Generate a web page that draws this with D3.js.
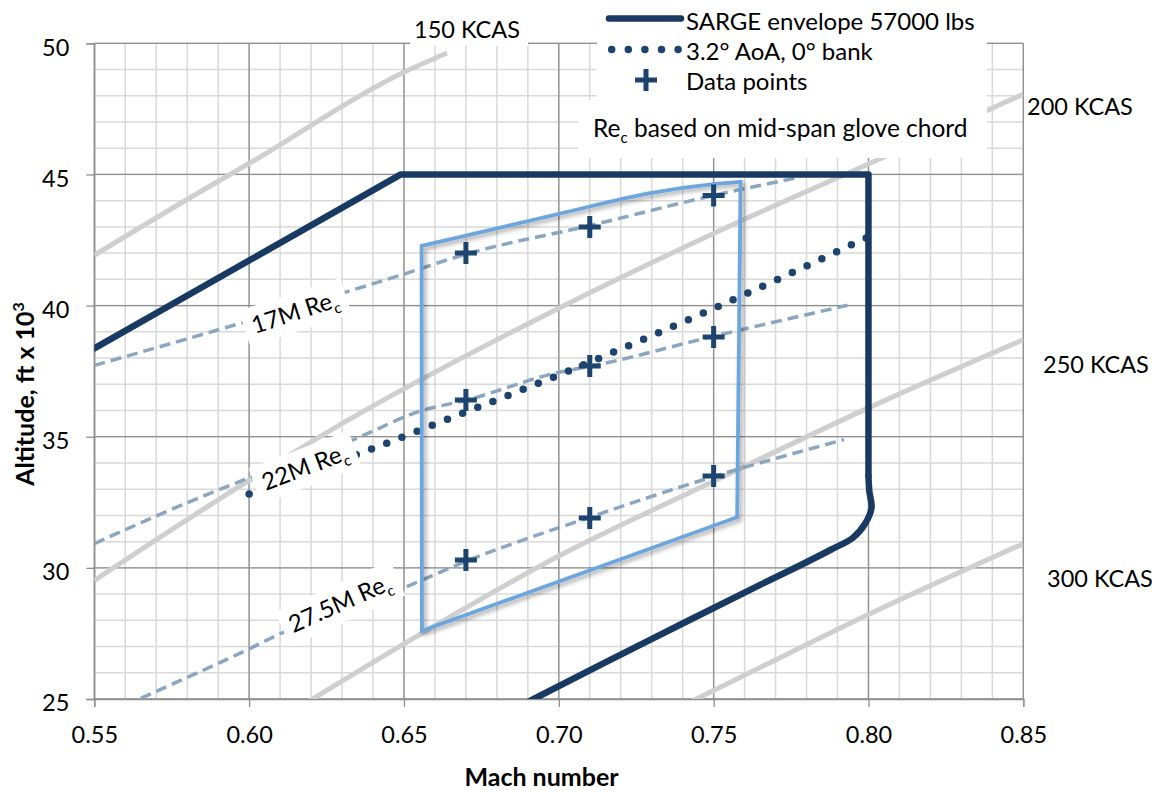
<!DOCTYPE html>
<html><head><meta charset="utf-8">
<script src="https://cdn.jsdelivr.net/npm/d3@7"></script>
<style>
body{margin:0;background:#fff}
svg{display:block}
text{font-family:Lato,'Open Sans',sans-serif;fill:#000}
</style>
</head><body>
<svg id="chart" width="1152" height="792"></svg>
<script>
// ---------- data ----------
const machTicks = [0.55, 0.60, 0.65, 0.70, 0.75, 0.80, 0.85];
const altTicks = [25, 30, 35, 40, 45, 50];

// SARGE envelope (straight part + rounded lower-right part)
const envUpperMach = [0.55, 0.649, 0.80, 0.80];
const envUpperAlt  = [38.37, 45.0, 45.0, 33.5];
const envLowerMach = [0.80, 0.8003, 0.8010, 0.7990, 0.7950, 0.7880, 0.7780, 0.7650, 0.7285, 0.6919, 0.6750];
const envLowerAlt  = [33.5, 32.9, 32.3, 31.7, 31.15, 30.7, 30.1, 29.35, 27.2, 25.0, 23.95];

// test box (light blue)
const boxTopMach = [0.6557, 0.6704, 0.7005, 0.73, 0.75, 0.7587];
const boxTopAlt  = [42.28, 42.68, 43.51, 44.3, 44.63, 44.72];
const boxRestMach = [0.7576, 0.6558];
const boxRestAlt  = [31.93, 27.60];

// 3.2 deg AoA, 0 bank
const aoaMach = [0.60, 0.6397, 0.67, 0.7005, 0.75, 0.7996];
const aoaAlt  = [32.82, 34.54, 35.94, 37.38, 39.89, 42.6];

// data points
const pointMach = [0.67, 0.71, 0.75, 0.67, 0.71, 0.75, 0.67, 0.71, 0.75];
const pointAlt  = [42.0, 43.0, 44.2, 36.4, 37.7, 38.8, 30.3, 31.9, 33.5];

// constant Reynolds number lines
const re17Mach  = [0.55, 0.60, 0.65, 0.67, 0.71, 0.75, 0.778];
const re17Alt   = [37.72, 39.42, 41.2, 41.96, 43.05, 44.2, 44.9];
const re22Mach  = [0.55, 0.5842, 0.5993, 0.6343, 0.6553, 0.67, 0.7005, 0.71, 0.75, 0.7932];
const re22Alt   = [30.92, 32.69, 33.40, 34.92, 35.98, 36.39, 37.47, 37.68, 38.83, 40.01];
const re275Mach = [0.55, 0.5621, 0.60, 0.6122, 0.6477, 0.67, 0.71, 0.75, 0.7921];
const re275Alt  = [24.22, 24.87, 26.91, 27.61, 29.13, 30.25, 31.93, 33.48, 34.89];
const reLabels  = ["17M Re", "22M Re", "27.5M Re"];

// constant KCAS lines
const k150Mach = [0.55, 0.5842, 0.60, 0.6488, 0.6639];
const k150Alt  = [41.92, 44.34, 45.42, 48.83, 49.63];
const k200Mach = [0.55, 0.58, 0.63, 0.70, 0.75, 0.80, 0.85];
const k200Alt  = [29.52, 31.84, 35.5, 39.9, 42.75, 45.4, 48.06];
const k250Mach = [0.615, 0.65, 0.70, 0.75, 0.80, 0.85];
const k250Alt  = [24.6, 27.1, 30.45, 33.3, 36.1, 38.7];
const k300Mach = [0.735, 0.765, 0.80, 0.85];
const k300Alt  = [24.45, 26.2, 28.22, 30.92];
const kcasLabels = ["150 KCAS", "200 KCAS", "250 KCAS", "300 KCAS"];

const legendLabels = ["SARGE envelope 57000 lbs", "3.2° AoA, 0° bank", "Data points"];

// ---------- helpers ----------
const zip = (a, b) => a.map((v, i) => [v, b[i]]);
const svg = d3.select("#chart");
const x = d3.scaleLinear().domain([0.55, 0.85]).range([94.3, 1023.3]);
const y = d3.scaleLinear().domain([25, 50]).range([699, 43.3]);
const FS = 23.5;

const defs = svg.append("defs");
defs.append("clipPath").attr("id", "plotclip").append("rect")
  .attr("x", x(0.55)).attr("y", y(50)).attr("width", x(0.85) - x(0.55)).attr("height", y(25) - y(50));
const f = defs.append("filter").attr("id", "shadow").attr("x", "-10%").attr("y", "-10%").attr("width", "130%").attr("height", "130%");
f.append("feDropShadow").attr("dx", 2.5).attr("dy", 2.5).attr("stdDeviation", 2)
  .attr("flood-color", "#000").attr("flood-opacity", 0.35);

// ---------- grid ----------
const grid = svg.append("g");
const minorX = d3.range(55, 86).map(v => v / 100);
const minorY = d3.range(25, 51);
grid.selectAll(".mx").data(minorX).join("line")
  .attr("x1", d => x(d)).attr("x2", d => x(d)).attr("y1", y(25)).attr("y2", y(50))
  .attr("stroke", "#d9d9d9").attr("stroke-width", 1.5);
grid.selectAll(".my").data(minorY).join("line")
  .attr("y1", d => y(d)).attr("y2", d => y(d)).attr("x1", x(0.55)).attr("x2", x(0.85))
  .attr("stroke", "#d9d9d9").attr("stroke-width", 1.5);
grid.selectAll(".Mx").data(machTicks).join("line")
  .attr("x1", d => x(d)).attr("x2", d => x(d)).attr("y1", y(25)).attr("y2", y(50))
  .attr("stroke", "#8f8f8f").attr("stroke-width", 1.3);
grid.selectAll(".My").data(altTicks).join("line")
  .attr("y1", d => y(d)).attr("y2", d => y(d)).attr("x1", x(0.55)).attr("x2", x(0.85))
  .attr("stroke", "#8f8f8f").attr("stroke-width", 1.3);

// ---------- axes ----------
const ax = svg.append("g").attr("transform", `translate(0,${y(25)})`)
  .call(d3.axisBottom(x).tickValues(machTicks).tickFormat(d3.format(".2f")).tickSize(8).tickPadding(19));
const ay = svg.append("g").attr("transform", `translate(${x(0.55)},0)`)
  .call(d3.axisLeft(y).tickValues(altTicks).tickSize(8).tickPadding(17));
[ax, ay].forEach(g => {
  g.select(".domain").attr("stroke", "#8f8f8f").attr("stroke-width", 1.3);
  g.selectAll(".tick line").attr("stroke", "#8f8f8f").attr("stroke-width", 1.3);
  g.selectAll(".tick text").style("font-size", FS + "px").style("font-family", "Lato").attr("fill", "#000");
});
ay.selectAll(".tick text").attr("dy", "0.5em");

svg.append("text").attr("x", 541.5).attr("y", 786).attr("text-anchor", "middle")
  .style("font-size", "25px").style("font-weight", "bold").text("Mach number");
const yt = svg.append("text").attr("transform", "translate(34,394) rotate(-90)").attr("text-anchor", "middle")
  .style("font-size", "25px").style("font-weight", "bold");
yt.append("tspan").text("Altitude, ft x 10");
yt.append("tspan").attr("dy", -10).style("font-size", "16px").text("3");

// ---------- series ----------
const plot = svg.append("g").attr("clip-path", "url(#plotclip)");
const lineLin = d3.line().x(d => x(d[0])).y(d => y(d[1]));
const lineMono = d3.line().x(d => x(d[0])).y(d => y(d[1])).curve(d3.curveMonotoneX);
const lineCR = d3.line().x(d => x(d[0])).y(d => y(d[1])).curve(d3.curveCatmullRom.alpha(0.5));

// KCAS lines
[[k150Mach, k150Alt], [k200Mach, k200Alt], [k250Mach, k250Alt], [k300Mach, k300Alt]].forEach(([m, a]) => {
  plot.append("path").attr("d", lineMono(zip(m, a))).attr("fill", "none")
    .attr("stroke", "#cfcfcf").attr("stroke-width", 5);
});

// Re lines
[[re17Mach, re17Alt], [re22Mach, re22Alt], [re275Mach, re275Alt]].forEach(([m, a]) => {
  plot.append("path").attr("d", lineMono(zip(m, a))).attr("fill", "none")
    .attr("stroke", "#8ba6c0").attr("stroke-width", 3.5).attr("stroke-dasharray", "11,6");
});

// AoA dotted
plot.append("path").attr("d", lineMono(zip(aoaMach, aoaAlt))).attr("fill", "none")
  .attr("stroke", "#1d436f").attr("stroke-width", 7.5).attr("stroke-linecap", "round")
  .attr("stroke-dasharray", "0,16.3");

// box
const topStr = lineMono(zip(boxTopMach, boxTopAlt));
const restPts = zip(boxRestMach, boxRestAlt);
let boxD = topStr + restPts.map(p => `L${x(p[0])},${y(p[1])}`).join("") + "Z";
plot.append("path").attr("d", boxD).attr("fill", "none").attr("stroke", "#6ca6dd")
  .attr("stroke-width", 3.8).attr("stroke-linejoin", "miter").attr("filter", "url(#shadow)");

// envelope
const env = plot.append("g").attr("fill", "none").attr("stroke", "#183a62").attr("stroke-width", 6.5)
  .attr("stroke-linejoin", "round").attr("stroke-linecap", "round");
env.append("path").attr("d", lineLin(zip(envUpperMach, envUpperAlt)));
env.append("path").attr("d", lineCR(zip(envLowerMach, envLowerAlt)));

// data points
plot.selectAll(".pt").data(zip(pointMach, pointAlt)).join("path")
  .attr("transform", d => `translate(${x(d[0])},${y(d[1])})`)
  .attr("d", "M-11,0H11M0,-11V11").attr("stroke", "#1d436f").attr("stroke-width", 5);

// ---------- labels with white boxes ----------
function boxedLabel(cx, cy, ang, main, sub, padX, h) {
  const g = svg.append("g").attr("transform", `translate(${cx},${cy}) rotate(${-ang})`);
  const r = g.append("rect").attr("fill", "#fff");
  const t = g.append("text").attr("text-anchor", "middle").attr("y", 8).style("font-size", "24px");
  t.append("tspan").text(main);
  if (sub) t.append("tspan").attr("dy", 6).style("font-size", "15px").text(sub);
  const w = t.node().getComputedTextLength();
  r.attr("x", -w / 2 - padX).attr("width", w + 2 * padX).attr("y", -h / 2).attr("height", h);
}
const reAnchorMach = [0.6149, 0.6181, 0.6294];
const reAnchorAlt = [39.74, 33.83, 28.64];
const reAngles = [18, 21, 24];
reLabels.forEach((l, i) => boxedLabel(x(reAnchorMach[i]), y(reAnchorAlt[i]), reAngles[i], l, "c", 8, 38));

// KCAS labels
svg.append("rect").attr("x", 410).attr("y", 12).attr("width", 118).attr("height", 34).attr("fill", "#fff");
svg.append("text").attr("x", 467).attr("y", 38).attr("text-anchor", "middle").style("font-size", FS + "px").text(kcasLabels[0]);
svg.append("text").attr("x", 1027).attr("y", 115).style("font-size", FS + "px").text(kcasLabels[1]);
svg.append("text").attr("x", 1043).attr("y", 373).style("font-size", FS + "px").text(kcasLabels[2]);
svg.append("text").attr("x", 1047).attr("y", 587).style("font-size", FS + "px").text(kcasLabels[3]);

// ---------- legend ----------
svg.append("rect").attr("x", 597).attr("y", 0).attr("width", 390).attr("height", 100).attr("fill", "#fff");
svg.append("rect").attr("x", 578).attr("y", 100).attr("width", 409).attr("height", 58).attr("fill", "#fff");
const lg = svg.append("g");
lg.append("line").attr("x1", 609).attr("x2", 681).attr("y1", 18.5).attr("y2", 18.5)
  .attr("stroke", "#183a62").attr("stroke-width", 6.5).attr("stroke-linecap", "round");
lg.append("line").attr("x1", 611.7).attr("x2", 680).attr("y1", 49.5).attr("y2", 49.5)
  .attr("stroke", "#1d436f").attr("stroke-width", 7.5).attr("stroke-linecap", "round").attr("stroke-dasharray", "0,16.6");
lg.append("path").attr("transform", "translate(646,80)").attr("d", "M-11,0H11M0,-11V11")
  .attr("stroke", "#1d436f").attr("stroke-width", 5);
legendLabels.forEach((l, i) => lg.append("text").attr("x", 686).attr("y", 30 + 30 * i).style("font-size", "24px").text(l));
const note = lg.append("text").attr("x", 593).attr("y", 136.7).style("font-size", "24.5px");
note.append("tspan").text("Re");
note.append("tspan").attr("dy", 6).style("font-size", "15px").text("c");
note.append("tspan").attr("dy", -6).text(" based on mid-span glove chord");
</script>
</body></html>
